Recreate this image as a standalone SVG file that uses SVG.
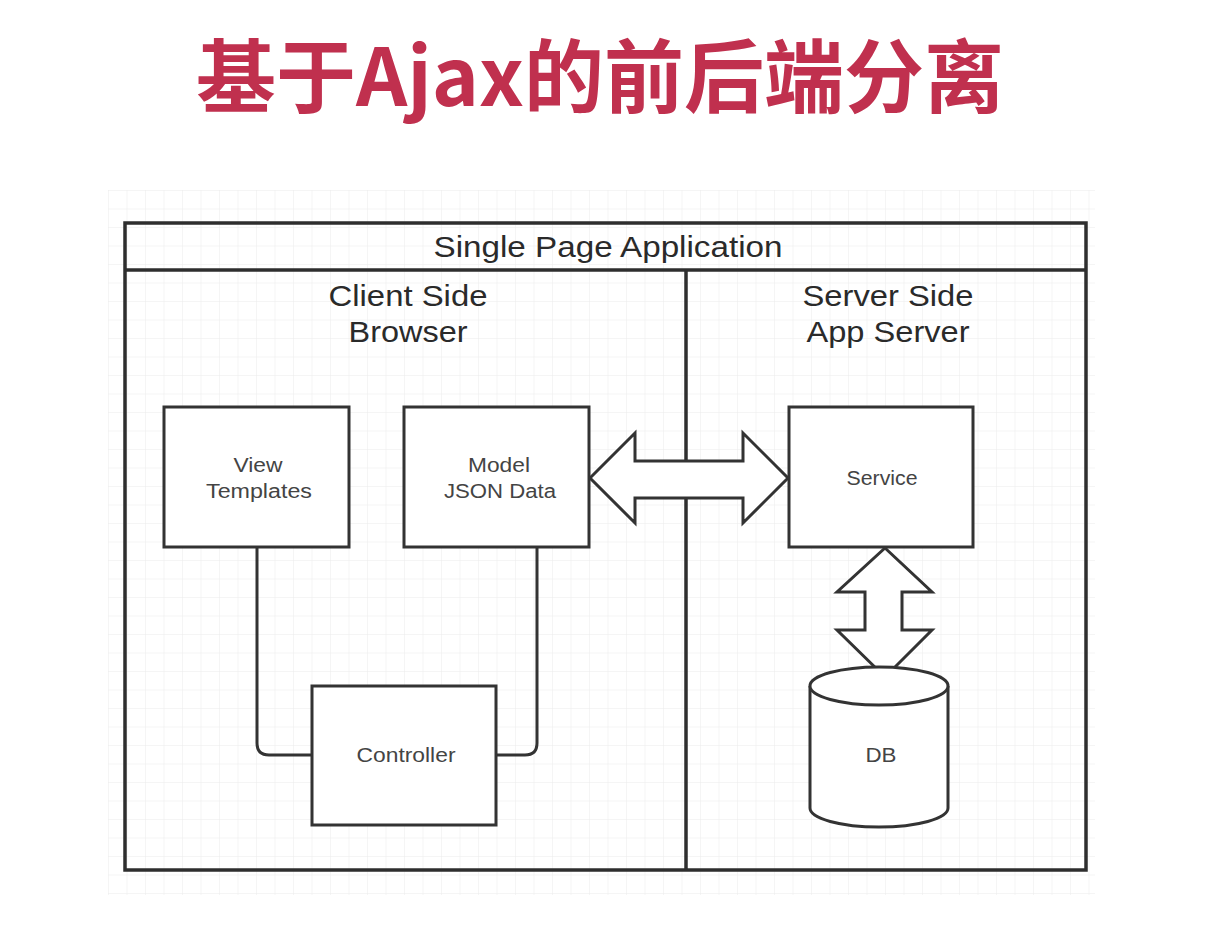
<svg xmlns="http://www.w3.org/2000/svg" width="1230" height="934" viewBox="0 0 1230 934">
<defs>
<pattern id="grid" x="108" y="190" width="18.5" height="18.5" patternUnits="userSpaceOnUse">
<path d="M0 0H18.5M0 0V18.5" fill="none" stroke="#ececec" stroke-width="1"/>
</pattern>
</defs>
<style>
.box{fill:#fff;stroke:#333;stroke-width:3}
.frame{fill:none;stroke:#2e2e2e;stroke-width:3.5}
.lbl{font-family:"Liberation Sans",Arial,sans-serif;fill:#444;font-size:20px;text-anchor:middle}
.hdr{font-family:"Liberation Sans",Arial,sans-serif;fill:#2a2a2a;font-size:30px;text-anchor:middle}
.conn{fill:none;stroke:#333;stroke-width:3}
.arrow{fill:#fff;stroke:#333;stroke-width:3;stroke-linejoin:miter}
</style>
<rect width="1230" height="934" fill="#fff"/>
<rect x="108" y="190" width="987" height="705" fill="url(#grid)"/>
<text x="600" y="106" font-family="'Noto Sans CJK SC',sans-serif" font-weight="bold" font-size="80" fill="#c0304e" text-anchor="middle" textLength="808" lengthAdjust="spacingAndGlyphs">基于Ajax的前后端分离</text>
<g id="spa">
<rect x="125" y="223" width="961" height="647" class="frame"/>
<line x1="125" y1="270" x2="1086" y2="270" class="frame"/>
<line x1="686" y1="270" x2="686" y2="870" class="frame"/>
<text x="608" y="257" class="hdr" font-size="28" textLength="349" lengthAdjust="spacingAndGlyphs">Single Page Application</text>
</g>
<g id="client-side">
<text x="408" y="306" class="hdr" textLength="159" lengthAdjust="spacingAndGlyphs">Client Side</text>
<text x="408" y="342" class="hdr" textLength="119" lengthAdjust="spacingAndGlyphs">Browser</text>
</g>
<g id="server-side">
<text x="888" y="306" class="hdr" textLength="171" lengthAdjust="spacingAndGlyphs">Server Side</text>
<text x="888" y="342" class="hdr" textLength="163" lengthAdjust="spacingAndGlyphs">App Server</text>
</g>
<g id="connectors">
<path class="conn" d="M257 547V743Q257 755 269 755H312"/>
<path class="conn" d="M537 547V743Q537 755 525 755H496"/>
<path class="arrow" d="M590 478L635 433V461H743V433L788 478L743 523V498H635V523Z"/>
<path class="arrow" d="M885 548L932 592H902V630H932L885 677L837 630H865V592H837Z"/>
</g>
<g id="view">
<rect x="164" y="407" width="185" height="140" class="box"/>
<text x="258" y="472" class="lbl" textLength="49" lengthAdjust="spacingAndGlyphs">View</text>
<text x="259" y="498" class="lbl" textLength="106" lengthAdjust="spacingAndGlyphs">Templates</text>
</g>
<g id="model">
<rect x="404" y="407" width="185" height="140" class="box"/>
<text x="499" y="472" class="lbl" textLength="62" lengthAdjust="spacingAndGlyphs">Model</text>
<text x="500" y="498" class="lbl" textLength="112" lengthAdjust="spacingAndGlyphs">JSON Data</text>
</g>
<g id="service">
<rect x="789" y="407" width="184" height="140" class="box"/>
<text x="882" y="485" class="lbl" textLength="71" lengthAdjust="spacingAndGlyphs">Service</text>
</g>
<g id="controller">
<rect x="312" y="686" width="184" height="139" class="box"/>
<text x="406" y="762" class="lbl" textLength="99" lengthAdjust="spacingAndGlyphs">Controller</text>
</g>
<g id="db">
<path class="box" d="M810 686V808A69 19 0 0 0 948 808V686"/>
<ellipse cx="879" cy="686" rx="69" ry="19" class="box"/>
<text x="881" y="762" class="lbl" textLength="31" lengthAdjust="spacingAndGlyphs">DB</text>
</g>
</svg>
